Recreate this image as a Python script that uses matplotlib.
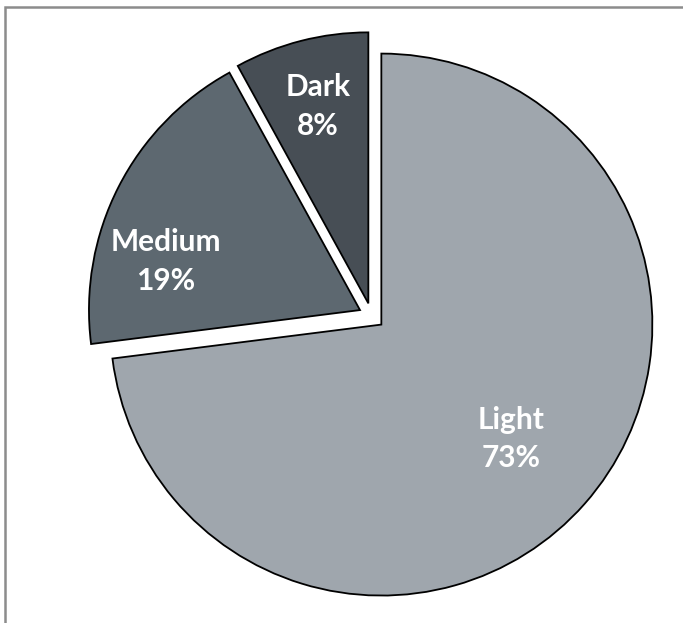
import numpy as np
import matplotlib
matplotlib.use("Agg")
import matplotlib.pyplot as plt
from matplotlib.patches import Rectangle

# data
labels = ["Light", "Medium", "Dark"]
shares = [73, 19, 8]
colors = ["#9FA6AD", "#5D6870", "#474E55"]

# label placement (fraction of radius, angle nudge in degrees)
label_r = [0.64, 0.74, 0.75]
label_nudge = [0, 13, 0]

fig = plt.figure(figsize=(6.83, 6.23), dpi=100)
ax = fig.add_axes([0, 0, 1, 1])

wedges, _ = ax.pie(shares, colors=colors, startangle=90, counterclock=False,
                   explode=[0.048] * 3,
                   wedgeprops=dict(edgecolor="black", linewidth=1.3))

for w, lab, s, r, nd in zip(wedges, labels, shares, label_r, label_nudge):
    mid = np.deg2rad((w.theta1 + w.theta2) / 2 + nd)
    cx, cy = w.center
    ax.text(cx + r * np.cos(mid), cy + r * np.sin(mid), "{}\n{}%".format(lab, s),
            ha="center", va="center", color="white", fontsize=21.5,
            fontweight="bold", family=["Lato", "DejaVu Sans"], linespacing=1.45)

ax.set_xlim(-1.371, 1.149)
ax.set_ylim(-1.133, 1.166)
ax.set_aspect("auto")
ax.axis("off")

# chart frame (runs off the right and bottom edges)
fig.patches.append(Rectangle((5 / 683, -0.1), 1.2, 1 - 7 / 623 + 0.1,
                             transform=fig.transFigure, fill=False,
                             edgecolor="#8C8C8C", linewidth=1.8))

fig.savefig("out.png", dpi=100)
